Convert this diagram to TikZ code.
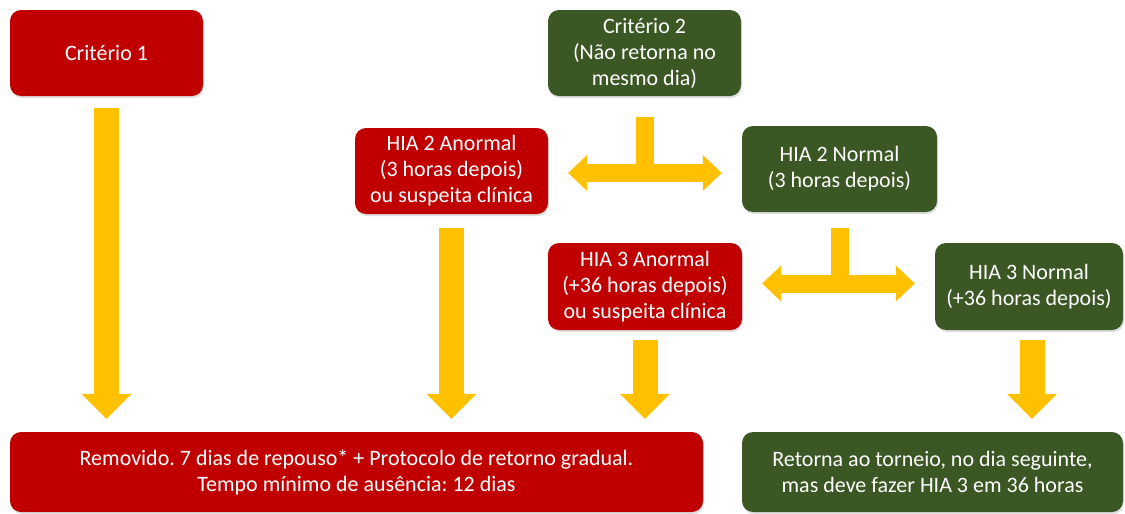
\documentclass[tikz,border=0pt]{standalone}
\usepackage{fontspec}
\setmainfont{Carlito}
\usetikzlibrary{arrows.meta,shadows}
\definecolor{boxred}{HTML}{C00000}
\definecolor{boxgreen}{HTML}{3B5724}
\definecolor{arrgold}{HTML}{FFC000}

\begin{document}
\frenchspacing
\begin{tikzpicture}[x=1pt, y=-1pt,
    box/.style={rounded corners=11pt, text=white, align=center, inner sep=0pt,
      font=\fontsize{22}{26}\selectfont,
      drop shadow={shadow xshift=1pt, shadow yshift=-2pt, opacity=0.25}},
    redbox/.style={box, fill=boxred},
    greenbox/.style={box, fill=boxgreen},
    arr/.style={draw=arrgold, line width=25pt,
      -{Triangle[length=25pt, width=50pt, line width=0pt]}},
    tarr/.style={draw=arrgold, line width=18pt}]
    \useasboundingbox (0,0) rectangle (1125,514);

    \node[redbox, minimum width=193, minimum height=86] (cone) at (106.5,53) {Critério 1};
    \node[greenbox, minimum width=193, minimum height=86] (ctwo) at (644.5,53) {Critério 2\\(Não retorna no\\mesmo dia)};
    \node[redbox, minimum width=193, minimum height=86] (atwo) at (451.5,171) {HIA 2 Anormal\\(3 horas depois)\\ou suspeita clínica};
    \node[greenbox, minimum width=195, minimum height=86] (ntwo) at (839.5,169) {HIA 2 Normal\\(3 horas depois)};
    \node[redbox, minimum width=194, minimum height=87] (athree) at (645,286.5) {HIA 3 Anormal\\(+36 horas depois)\\ou suspeita clínica};
    \node[greenbox, minimum width=188, minimum height=87] (nthree) at (1029,286.5) {HIA 3 Normal\\(+36 horas depois)};
    \node[redbox, minimum width=693, minimum height=80] (rem) at (356.5,472) {Removido. 7 dias de repouso* + Protocolo de retorno gradual.\\Tempo mínimo de ausência: 12 dias};
    \node[greenbox, minimum width=381, minimum height=80] (ret) at (932.5,472) {Retorna ao torneio, no dia seguinte,\\mas deve fazer HIA 3 em 36 horas};

    \draw[arr, shorten <=12pt, shorten >=13pt] (cone.south) -- (cone.south |- rem.north);
    \draw[arr, shorten <=14pt, shorten >=13pt] (atwo.south) -- (atwo.south |- rem.north);
    \draw[arr, shorten <=10pt, shorten >=13pt] (athree.south) -- (athree.south |- rem.north);
    \draw[arr, shorten <=10pt, shorten >=13pt] ([xshift=3pt]nthree.south) -- ([xshift=3pt]nthree.south |- ret.north);

    \draw[tarr, shorten <=21pt] (ctwo.south) -- ([yshift=-2pt]ctwo.south |- atwo.east);
    \draw[tarr, {Triangle[length=19pt, width=36pt, line width=0pt]}-{Triangle[length=19pt, width=36pt, line width=0pt]}, shorten <=20pt, shorten >=20pt] ([yshift=-2pt]atwo.east) -- ([yshift=-2pt]ntwo.west |- atwo.east);
    \draw[tarr, shorten <=16pt] (ntwo.south) -- ([yshift=3pt]ntwo.south |- athree.east);
    \draw[tarr, {Triangle[length=19pt, width=36pt, line width=0pt]}-{Triangle[length=19pt, width=36pt, line width=0pt]}, shorten <=20pt, shorten >=20pt] ([yshift=3pt]athree.east) -- ([yshift=3pt]nthree.west);
  \end{tikzpicture}
\end{document}
